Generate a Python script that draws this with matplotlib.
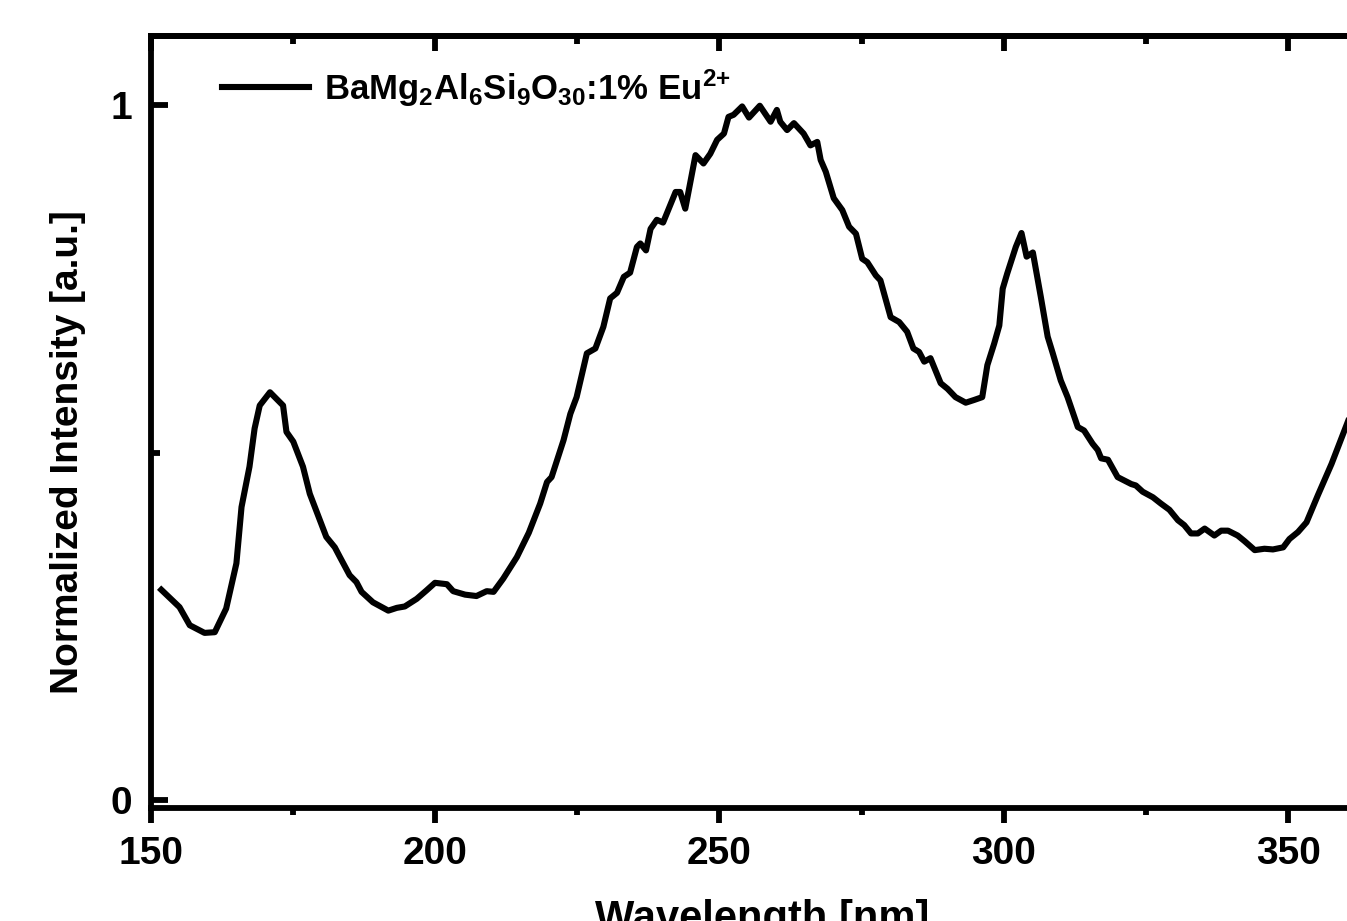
import numpy as np
import matplotlib
matplotlib.use("Agg")
import matplotlib.pyplot as plt
from matplotlib.ticker import MultipleLocator, FixedLocator

# excitation spectrum
wavelength = [
    151.9, 155.1, 156.9, 159.5, 161.3, 163.3, 165.1, 166.0, 167.4, 168.3,
    169.2, 171.0, 173.3, 173.9, 175.1, 176.8, 178.0, 180.1, 180.9, 182.4,
    183.3, 185.0, 186.2, 187.1, 189.1, 191.8, 193.3, 194.7, 196.8, 198.5,
    200.0, 202.1, 203.2, 205.3, 207.3, 209.1, 210.3, 212.0, 214.4, 216.5,
    218.5, 219.7, 220.5, 222.6, 223.8, 224.9, 226.7, 228.2, 229.6, 230.8,
    232.0, 233.2, 234.3, 235.5, 236.1, 237.1, 237.9, 239.0, 240.1, 242.3,
    243.1, 244.0, 245.8, 247.2, 248.4, 249.6, 250.8, 251.6, 252.5, 254.0,
    255.2, 257.1, 259.0, 260.1, 260.7, 261.9, 263.1, 264.8, 266.0, 267.2,
    267.8, 268.7, 270.1, 271.6, 272.8, 274.0, 275.1, 276.0, 277.5, 278.3,
    280.1, 281.6, 283.0, 284.1, 285.1, 286.0, 287.1, 288.9, 290.1, 291.5,
    293.3, 294.8, 296.2, 297.1, 298.3, 299.2, 299.8, 300.6, 302.1, 303.1,
    304.0, 305.1, 306.5, 307.7, 308.6, 310.0, 311.2, 313.0, 314.1, 315.6,
    316.5, 317.1, 318.3, 320.0, 322.4, 323.2, 324.4, 326.2, 327.6, 329.1,
    330.6, 331.7, 332.9, 334.1, 335.3, 337.0, 338.2, 339.4, 341.1, 342.3,
    344.1, 345.8, 347.3, 349.1, 350.2, 351.7, 353.2, 355.2, 357.6, 360.0,
    361.0,
]
intensity = [
    0.303, 0.278, 0.252, 0.241, 0.242, 0.276, 0.341, 0.422, 0.480, 0.535,
    0.568, 0.587, 0.568, 0.530, 0.516, 0.480, 0.441, 0.396, 0.379, 0.364,
    0.350, 0.324, 0.314, 0.300, 0.285, 0.273, 0.277, 0.279, 0.290, 0.302,
    0.313, 0.311, 0.301, 0.296, 0.294, 0.301, 0.300, 0.319, 0.350, 0.385,
    0.427, 0.458, 0.465, 0.518, 0.556, 0.580, 0.643, 0.650, 0.681, 0.722,
    0.730, 0.753, 0.759, 0.796, 0.801, 0.791, 0.822, 0.835, 0.831, 0.875,
    0.875, 0.851, 0.928, 0.916, 0.930, 0.950, 0.959, 0.983, 0.986, 0.998,
    0.982, 0.999, 0.976, 0.993, 0.976, 0.964, 0.974, 0.959, 0.942, 0.947,
    0.921, 0.904, 0.866, 0.849, 0.825, 0.815, 0.779, 0.774, 0.755, 0.748,
    0.695, 0.688, 0.674, 0.650, 0.645, 0.631, 0.636, 0.600, 0.592, 0.580,
    0.572, 0.576, 0.580, 0.626, 0.657, 0.683, 0.736, 0.758, 0.796, 0.816,
    0.782, 0.788, 0.724, 0.667, 0.643, 0.604, 0.580, 0.537, 0.532, 0.513,
    0.504, 0.492, 0.490, 0.465, 0.455, 0.453, 0.444, 0.436, 0.427, 0.418,
    0.403, 0.396, 0.384, 0.384, 0.391, 0.381, 0.388, 0.388, 0.381, 0.373,
    0.360, 0.362, 0.361, 0.364, 0.376, 0.386, 0.400, 0.439, 0.484, 0.535,
    0.556,
]
series_label = r"BaMg$_2$Al$_6$Si$_9$O$_{30}$:1% Eu$^{2{+}}$"
x_ticks = [150, 200, 250, 300, 350]
y_ticks = [0, 1]

plt.rcParams["font.family"] = ["Liberation Sans", "DejaVu Sans"]
plt.rcParams["font.weight"] = "bold"
plt.rcParams["mathtext.fontset"] = "custom"
plt.rcParams["mathtext.rm"] = "Liberation Sans:bold"
plt.rcParams["mathtext.it"] = "Liberation Sans:bold"
plt.rcParams["mathtext.bf"] = "Liberation Sans:bold"
plt.rcParams["mathtext.default"] = "rm"

LW = 4.2

fig = plt.figure(figsize=(13.47, 9.21), dpi=100)
# axes run a little past the right edge, as in the cropped original
ax = fig.add_axes([0.11173, 0.12269, 0.90805, 0.83876])

ax.plot(wavelength, intensity, color="black", lw=4.4, solid_joinstyle="round",
        label=series_label)

ax.set_xlim(150, 365)
ax.set_ylim(-0.0108, 1.100)

for side in ["left", "bottom", "top"]:
    ax.spines[side].set_linewidth(LW)
ax.spines["right"].set_visible(False)

ax.xaxis.set_major_locator(FixedLocator(x_ticks))
ax.xaxis.set_minor_locator(MultipleLocator(25))
ax.yaxis.set_major_locator(FixedLocator(y_ticks))
ax.yaxis.set_minor_locator(FixedLocator([0.5]))

ax.tick_params(axis="x", which="major", direction="out", length=11, width=LW,
               labelsize=28, pad=9)
ax.tick_params(axis="x", which="minor", direction="out", length=5, width=LW)
ax.tick_params(axis="y", which="major", direction="in", length=12, width=LW,
               labelsize=28, pad=13, right=False)
ax.tick_params(axis="y", which="minor", direction="in", length=6.5, width=LW,
               right=False)

top = ax.secondary_xaxis("top")
top.spines["top"].set_linewidth(LW)
top.xaxis.set_major_locator(FixedLocator(x_ticks))
top.xaxis.set_minor_locator(MultipleLocator(25))
top.tick_params(axis="x", which="major", direction="in", length=11, width=LW,
                labelsize=0, labeltop=False)
top.tick_params(axis="x", which="minor", direction="in", length=5.5, width=LW)

ax.set_xlabel("Wavelength [nm]", fontsize=30, fontweight="bold")
ax.xaxis.set_label_coords(0.5, -0.118)
ax.set_ylabel("Normalized Intensity [a.u.]", fontsize=28, fontweight="bold")
ax.yaxis.set_label_coords(-0.0527, 0.4607)

ax.legend(loc="center left", bbox_to_anchor=(222 / 1347, 1 - 88 / 921),
          bbox_transform=fig.transFigure, frameon=False, fontsize=25,
          handlelength=2.5, handletextpad=0.45, borderpad=0, borderaxespad=0)

fig.savefig("out.png", dpi=100)
